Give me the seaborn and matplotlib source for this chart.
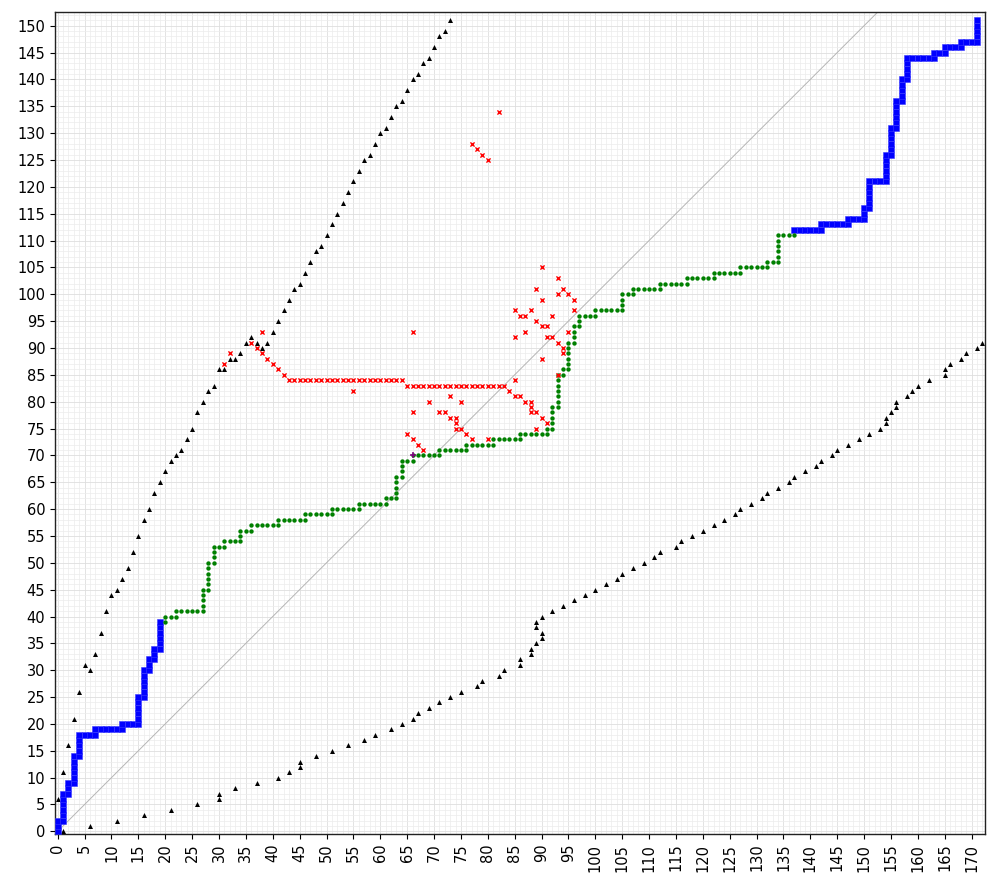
import pandas as pd
import matplotlib
matplotlib.use("Agg")
import matplotlib.pyplot as plt
from matplotlib.ticker import MultipleLocator
import seaborn as sns

# warping path, first blue stretch
blue_start = [(0, 0), (0, 1), (0, 2), (1, 2), (1, 3), (1, 4), (1, 5), (1, 6), (1, 7),
              (2, 7), (2, 8), (2, 9), (3, 9), (3, 10), (3, 11), (3, 12), (3, 13), (3, 14),
              (4, 14), (4, 15), (4, 16), (4, 17), (4, 18), (5, 18), (6, 18), (7, 18), (7, 19),
              (8, 19), (9, 19), (10, 19), (11, 19), (12, 19), (12, 20), (13, 20), (14, 20),
              (15, 20), (15, 21), (15, 22), (15, 23), (15, 24), (15, 25), (16, 25), (16, 26),
              (16, 27), (16, 28), (16, 29), (16, 30), (17, 30), (17, 31), (17, 32), (18, 32),
              (18, 33), (18, 34), (19, 34), (19, 35), (19, 36), (19, 37), (19, 38), (19, 39)]

# warping path, last blue stretch
blue_end = [(137, 112), (138, 112), (139, 112), (140, 112), (141, 112), (142, 112), (142, 113),
            (143, 113), (144, 113), (145, 113), (146, 113), (147, 113), (147, 114), (148, 114),
            (149, 114), (150, 114), (150, 115), (150, 116), (151, 116), (151, 117), (151, 118),
            (151, 119), (151, 120), (151, 121), (152, 121), (153, 121), (154, 121), (154, 122),
            (154, 123), (154, 124), (154, 125), (154, 126), (155, 126), (155, 127), (155, 128),
            (155, 129), (155, 130), (155, 131), (156, 131), (156, 132), (156, 133), (156, 134),
            (156, 135), (156, 136), (157, 136), (157, 137), (157, 138), (157, 139), (157, 140),
            (158, 140), (158, 141), (158, 142), (158, 143), (158, 144), (159, 144), (160, 144),
            (161, 144), (162, 144), (163, 144), (163, 145), (164, 145), (165, 145), (165, 146),
            (166, 146), (167, 146), (168, 146), (168, 147), (169, 147), (170, 147), (171, 147),
            (171, 148), (171, 149), (171, 150), (171, 151)]

# warping path, green middle part
green_path = [(20, 39), (20, 40), (21, 40), (22, 40), (22, 41), (23, 41), (24, 41), (25, 41),
              (26, 41), (27, 41), (27, 42), (27, 43), (27, 44), (27, 45), (28, 45), (28, 46),
              (28, 47), (28, 48), (28, 49), (28, 50), (29, 50), (29, 51), (29, 52), (29, 53),
              (30, 53), (31, 53), (31, 54), (32, 54), (33, 54), (34, 54), (34, 55), (34, 56),
              (35, 56), (36, 56), (36, 57), (37, 57), (38, 57), (39, 57), (40, 57), (41, 57),
              (41, 58), (42, 58), (43, 58), (44, 58), (45, 58), (46, 58), (46, 59), (47, 59),
              (48, 59), (49, 59), (50, 59), (51, 59), (51, 60), (52, 60), (53, 60), (54, 60),
              (55, 60), (56, 60), (56, 61), (57, 61), (58, 61), (59, 61), (60, 61), (61, 61),
              (61, 62), (62, 62), (63, 62), (63, 63), (63, 64), (63, 65), (63, 66), (64, 66),
              (64, 67), (64, 68), (64, 69), (65, 69), (66, 69), (66, 70), (67, 70), (68, 70),
              (69, 70), (70, 70), (71, 70), (71, 71), (72, 71), (73, 71), (74, 71), (75, 71),
              (76, 71), (76, 72), (77, 72), (78, 72), (79, 72), (80, 72), (81, 72), (81, 73),
              (82, 73), (83, 73), (84, 73), (85, 73), (86, 73), (86, 74), (87, 74), (88, 74),
              (89, 74), (90, 74), (91, 74), (91, 75), (92, 75), (92, 76), (92, 77), (92, 78),
              (92, 79), (93, 79), (93, 80), (93, 81), (93, 82), (93, 83), (93, 84), (93, 85),
              (94, 85), (94, 86), (95, 86), (95, 87), (95, 88), (95, 89), (95, 90), (95, 91),
              (96, 91), (96, 92), (96, 93), (96, 94), (97, 94), (97, 95), (97, 96), (98, 96),
              (99, 96), (100, 96), (100, 97), (101, 97), (102, 97), (103, 97), (104, 97),
              (105, 97), (105, 98), (105, 99), (105, 100), (106, 100), (107, 100), (107, 101),
              (108, 101), (109, 101), (110, 101), (111, 101), (112, 101), (112, 102), (113, 102),
              (114, 102), (115, 102), (116, 102), (117, 102), (117, 103), (118, 103), (119, 103),
              (120, 103), (121, 103), (122, 103), (122, 104), (123, 104), (124, 104), (125, 104),
              (126, 104), (127, 104), (127, 105), (128, 105), (129, 105), (130, 105), (131, 105),
              (132, 105), (132, 106), (133, 106), (134, 106), (134, 107), (134, 108), (134, 109),
              (134, 110), (134, 111), (135, 111), (136, 111), (137, 111)]

# rejected candidate cells
red_cells = [(31, 87), (32, 89), (36, 91), (37, 90), (38, 93), (38, 89), (39, 88), (40, 87),
             (41, 86), (42, 85),
             (43, 84), (44, 84), (45, 84), (46, 84), (47, 84), (48, 84), (49, 84), (50, 84),
             (51, 84), (52, 84), (53, 84), (54, 84), (55, 84), (56, 84), (57, 84), (58, 84),
             (59, 84), (60, 84), (61, 84), (62, 84), (63, 84), (64, 84), (55, 82),
             (65, 83), (66, 83), (67, 83), (68, 83), (69, 83), (70, 83), (71, 83), (72, 83),
             (73, 83), (74, 83), (75, 83), (76, 83), (77, 83), (78, 83), (79, 83), (80, 83),
             (81, 83), (82, 83), (83, 83), (66, 93),
             (65, 74), (66, 73), (67, 72), (68, 71), (66, 78), (69, 80), (71, 78), (72, 78),
             (73, 81), (75, 80), (73, 77), (74, 77), (74, 76), (74, 75), (75, 75), (76, 74),
             (77, 73), (80, 73),
             (84, 82), (85, 81), (86, 81), (87, 80), (88, 80), (88, 79), (88, 78), (89, 78),
             (90, 77), (91, 76), (89, 75),
             (85, 84), (93, 85), (90, 88), (94, 89), (94, 90), (93, 91), (85, 92), (91, 92),
             (92, 92), (87, 93), (95, 93), (90, 94), (91, 94), (89, 95), (85, 97), (86, 96),
             (87, 96), (88, 97), (92, 96), (96, 97), (90, 99), (96, 99), (93, 100), (95, 100),
             (89, 101), (94, 101), (93, 103), (90, 105),
             (77, 128), (78, 127), (79, 126), (80, 125), (82, 134)]

# window boundary, upper side
band_upper = [(0, 6), (1, 11), (2, 16), (3, 21), (4, 26), (5, 31), (6, 30), (7, 33), (8, 37),
              (9, 41), (10, 44), (11, 45), (12, 47), (13, 49), (14, 52), (15, 55), (16, 58),
              (17, 60), (18, 63), (19, 65), (20, 67), (21, 69), (22, 70), (23, 71), (24, 73),
              (25, 75), (26, 78), (27, 80), (28, 82), (29, 83), (30, 86), (31, 86), (32, 88),
              (33, 88), (34, 89), (35, 91), (36, 92), (37, 91), (38, 90), (39, 91), (40, 93),
              (41, 95), (42, 97), (43, 99), (44, 101), (45, 102), (46, 104), (47, 106),
              (48, 108), (49, 109), (50, 111), (51, 113), (52, 115), (53, 117), (54, 119),
              (55, 121), (56, 123), (57, 125), (58, 126), (59, 128), (60, 130), (61, 131),
              (62, 133), (63, 135), (64, 136), (65, 138), (66, 140), (67, 141), (68, 143),
              (69, 144), (70, 146), (71, 148), (72, 149), (73, 151)]

# window boundary, lower side
band_lower = [(1, 0), (6, 1), (11, 2), (16, 3), (21, 4), (26, 5), (30, 6), (30, 7), (33, 8),
              (37, 9), (41, 10), (43, 11), (45, 12), (45, 13), (48, 14), (51, 15), (54, 16),
              (57, 17), (59, 18), (62, 19), (64, 20), (66, 21), (67, 22), (69, 23), (71, 24),
              (73, 25), (75, 26), (78, 27), (79, 28), (82, 29), (83, 30), (86, 31), (86, 32),
              (88, 33), (88, 34), (89, 35), (90, 36), (90, 37), (89, 38), (89, 39), (90, 40),
              (92, 41), (94, 42), (96, 43), (98, 44), (100, 45), (102, 46), (104, 47),
              (105, 48), (107, 49), (109, 50), (111, 51), (112, 52), (115, 53), (116, 54),
              (118, 55), (120, 56), (122, 57), (124, 58), (126, 59), (127, 60), (129, 61),
              (131, 62), (132, 63), (134, 64), (136, 65), (137, 66), (139, 67), (141, 68),
              (142, 69), (144, 70), (145, 71), (147, 72), (149, 73), (151, 74), (153, 75),
              (154, 76), (154, 77), (155, 78), (156, 79), (156, 80), (158, 81), (159, 82),
              (160, 83), (162, 84), (165, 85), (165, 86), (166, 87), (168, 88), (169, 89),
              (171, 90), (172, 91)]

marked_cell = [(66, 70)]


def frame(points):
    return pd.DataFrame(points, columns=["i", "j"])


def main():
    sns.set_style("ticks")
    plt.rcParams["font.family"] = ["DejaVu Sans"]

    fig = plt.figure(figsize=(9.97, 8.9), dpi=100)
    ax = fig.add_axes([0.0552, 0.0629, 0.9328, 0.9239])

    ax.set_axisbelow(True)
    ax.xaxis.set_major_locator(MultipleLocator(5))
    ax.yaxis.set_major_locator(MultipleLocator(5))
    ax.xaxis.set_minor_locator(MultipleLocator(1))
    ax.yaxis.set_minor_locator(MultipleLocator(1))
    ax.grid(which="major", color="#dedede", lw=0.6)
    ax.grid(which="minor", color="#ececec", lw=0.5)

    ax.axline((0, 0), slope=1, color="#b5b5b5", lw=0.7, zorder=1)

    for band in (band_upper, band_lower):
        sns.scatterplot(data=frame(band), x="i", y="j", marker="^", color="black",
                        s=13, linewidth=0, ax=ax, zorder=3)

    for part in (blue_start, blue_end):
        sns.scatterplot(data=frame(part), x="i", y="j", marker="s", color="#0000ff",
                        s=17, edgecolor="#3a3aff", linewidth=0.4, ax=ax, zorder=3)

    sns.scatterplot(data=frame(green_path), x="i", y="j", marker="o", color="green",
                    s=10, linewidth=0, ax=ax, zorder=4)

    sns.scatterplot(data=frame(red_cells), x="i", y="j", marker="x", color="red",
                    s=9, linewidth=1.0, ax=ax, zorder=5)

    sns.scatterplot(data=frame(marked_cell), x="i", y="j", marker="+", color="purple",
                    s=22, linewidth=1.1, ax=ax, zorder=6)

    ax.set_xlim(-0.5, 172.5)
    ax.set_ylim(-0.5, 152.6)
    ax.set_xlabel("")
    ax.set_ylabel("")
    ax.tick_params(which="major", direction="out", length=3.5, width=0.8,
                   labelsize=10.5, colors="black")
    ax.tick_params(which="minor", length=0)
    ax.tick_params(axis="x", labelrotation=90)
    for side in ax.spines.values():
        side.set_visible(True)
        side.set_color("#222222")
        side.set_linewidth(1.0)

    fig.savefig("out.png", dpi=100)


if __name__ == "__main__":
    main()
